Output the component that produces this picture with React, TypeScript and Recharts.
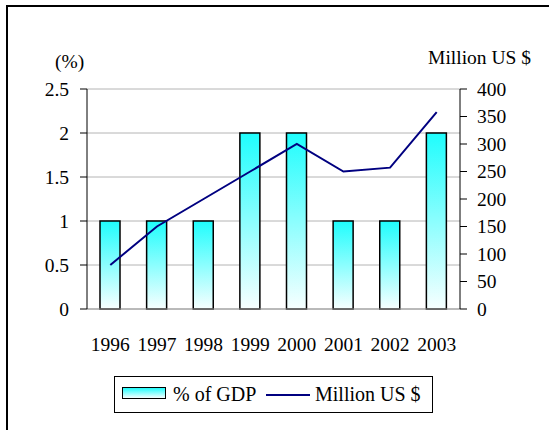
import React from "react";
import { ComposedChart, Bar, Line, XAxis, YAxis, CartesianGrid } from "recharts";

const years = ["1996", "1997", "1998", "1999", "2000", "2001", "2002", "2003"];
const gdpShare = [1, 1, 1, 2, 2, 1, 1, 2];
const millionUsd = [80, 150, 200, 250, 300, 250, 257, 358];
const leftTicks = [0, 0.5, 1, 1.5, 2, 2.5];
const rightTicks = [0, 50, 100, 150, 200, 250, 300, 350, 400];

const chartData = years.map((year, i) => ({
  year,
  gdp: gdpShare[i],
  usd: millionUsd[i],
}));

const FONT = '"Liberation Serif", "Times New Roman", serif';
const tickStyle = { fontSize: 19.5, fontFamily: FONT, fill: "#000" };

export default function App() {
  return (
    <div style={{ position: "absolute", left: 0, top: 0, width: 549, height: 430, overflow: "hidden", background: "#fff", fontFamily: FONT }}>
      {/* frame */}
      <div style={{ position: "absolute", left: 6, top: 5, width: 700, height: 600, borderLeft: "2px solid #000", borderTop: "2px solid #000" }} />

      <div style={{ position: "absolute", left: 0, top: 0 }}>
        <ComposedChart width={549} height={430} data={chartData} margin={{ top: 89, right: 0, bottom: 91, left: 0 }}>
          <defs>
            <linearGradient id="cyanFill" x1="0" y1="0" x2="0" y2="1">
              <stop offset="0%" stopColor="#1ffdfd" />
              <stop offset="100%" stopColor="#f7ffff" />
            </linearGradient>
          </defs>
          <CartesianGrid yAxisId="left" vertical={false} stroke="#b4b4b4" />
          <XAxis
            dataKey="year"
            tickLine={false}
            axisLine={{ stroke: "#9a9a9a" }}
            tick={tickStyle}
            tickSize={6}
            tickMargin={22}
            height={30}
          />
          <YAxis
            yAxisId="left"
            domain={[0, 2.5]}
            ticks={leftTicks}
            width={87}
            tick={tickStyle}
            tickSize={7}
            tickMargin={11}
            axisLine={{ stroke: "#000" }}
            tickLine={{ stroke: "#000" }}
          />
          <YAxis
            yAxisId="right"
            orientation="right"
            domain={[0, 400]}
            ticks={rightTicks}
            width={89}
            tick={{ ...tickStyle, textAnchor: "start" }}
            tickSize={7}
            tickMargin={10}
            axisLine={{ stroke: "#000" }}
            tickLine={{ stroke: "#000" }}
          />
          <Bar
            yAxisId="left"
            dataKey="gdp"
            barSize={20}
            fill="url(#cyanFill)"
            stroke="#000"
            strokeWidth={1.5}
            isAnimationActive={false}
          />
          <Line
            yAxisId="right"
            dataKey="usd"
            type="linear"
            stroke="#000080"
            strokeWidth={2}
            dot={false}
            activeDot={false}
            isAnimationActive={false}
          />
        </ComposedChart>
      </div>

      {/* axis titles */}
      <div style={{ position: "absolute", left: 55, top: 50, fontSize: 19.5, lineHeight: "24px", color: "#000" }}>(%)</div>
      <div style={{ position: "absolute", right: 18, top: 46, fontSize: 19.5, lineHeight: "24px", color: "#000" }}>Million US $</div>

      {/* legend */}
      <div style={{ position: "absolute", left: 114, top: 376, width: 317, height: 35, border: "1px solid #000" }}>
        <div style={{ position: "absolute", left: 7, top: 10, width: 42, height: 10, border: "1.5px solid #000", background: "linear-gradient(#1ffdfd, #f7ffff)" }} />
        <div style={{ position: "absolute", left: 58, top: 5, fontSize: 20, lineHeight: "24px", color: "#000" }}>% of GDP</div>
        <div style={{ position: "absolute", left: 151, top: 17, width: 44, height: 2, background: "#000080" }} />
        <div style={{ position: "absolute", left: 200, top: 5, fontSize: 20, lineHeight: "24px", color: "#000" }}>Million US $</div>
      </div>
    </div>
  );
}
